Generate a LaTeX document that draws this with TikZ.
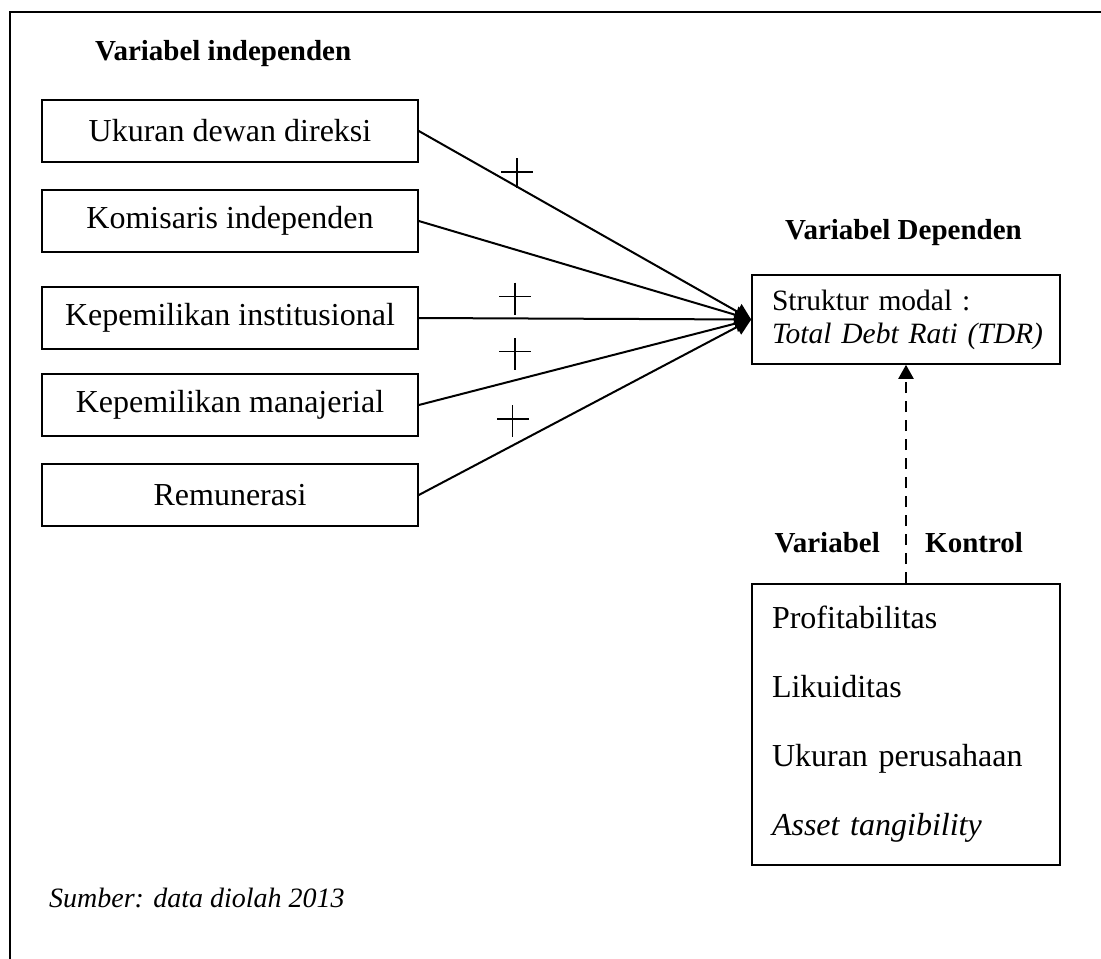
\documentclass[tikz,border=0pt]{standalone}
\usepackage{fontspec}
\setmainfont{Liberation Serif}
\usetikzlibrary{arrows.meta}
\tikzset{
  px/.style={x=1pt,y=-1pt},
  indbox/.style={draw,line width=1.6pt,minimum width=376pt,minimum height=62pt,inner sep=0pt,font=\fontsize{32}{38}\selectfont},
  rightbox/.style={draw,line width=1.6pt,minimum width=308pt,inner sep=0pt,align=left,text width=268pt},
  heading/.style={font=\fontsize{29}{34}\selectfont\bfseries,inner sep=0pt,anchor=base west},
  link/.style={line width=2pt,-{Triangle[length=16pt,width=17pt]}},
  ctrl/.style={line width=2.2pt,dash pattern=on 11pt off 8pt,-{Triangle[length=14pt,width=15pt]}},
  plusline/.style={line width=1.5pt},
  frame/.style={line width=1.8pt}
}
\begin{document}
\begin{tikzpicture}[px]
\useasboundingbox (0,0) rectangle (1101,959);
% outer frame (only top and left visible)
\draw[frame] (1101,12) -- (10,12) -- (10,959);

\node[heading] (hind) at (95,60) {Variabel independen};

\node[indbox] (b1) at (230,131) {Ukuran dewan direksi};
\node[indbox] (b2) at (230,221) {Komisaris independen};
\node[indbox] (b3) at (230,318) {Kepemilikan institusional};
\node[indbox] (b4) at (230,405) {Kepemilikan manajerial};
\node[indbox] (b5) at (230,495) {Remunerasi};

\node[heading] (hdep) at (785,239) {Variabel Dependen};
\node[rightbox,minimum height=89pt,font=\fontsize{29.5}{33}\selectfont] (dep) at (906,319.5)
  {\mbox{Struktur modal :}\\ \mbox{\textit{Total Debt Rati (TDR)}}};

\draw[link] (b1.east) -- (dep.west);
\draw[link] (b2.east) -- (dep.west);
\draw[link] (b3.east) -- (dep.west);
\draw[link] (b4.east) -- (dep.west);
\draw[link] (b5.east) -- (dep.west);

% plus signs
\draw[plusline] (501,172) -- (533,172) (517,158) -- (517,188);
\draw[plusline] (499,296.7) -- (531,296.7) (515,282.7) -- (515,315);
\draw[plusline] (499,351.7) -- (531,351.7) (515,338) -- (515,370);
\draw[plusline] (497,419) -- (529,419) (512.7,405) -- (512.7,436.7);

\node[rightbox,minimum height=281pt,font=\fontsize{32}{69}\selectfont] (ctl) at (906,724.5)
  {Profitabilitas\\ Likuiditas\\ Ukuran perusahaan\\ \textit{Asset tangibility}};

\draw[ctrl] (ctl.north) -- (dep.south);

\node[heading,anchor=base east] (hv) at (880,552) {Variabel};
\node[heading] (hk) at (925,552) {Kontrol};

\node[anchor=base west,inner sep=0pt,font=\fontsize{28}{33}\selectfont\itshape] (src) at (49,907) {Sumber: data diolah 2013};
\end{tikzpicture}
\end{document}
